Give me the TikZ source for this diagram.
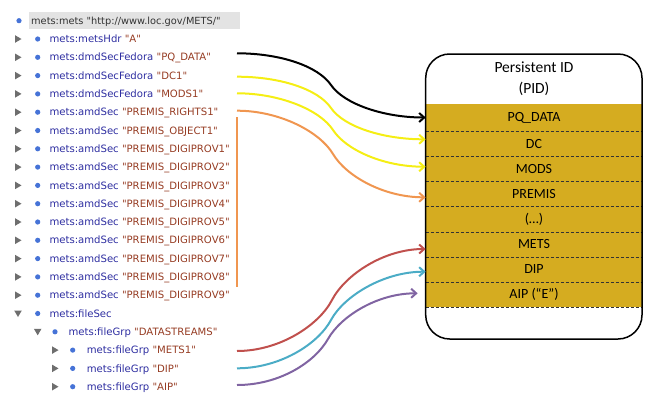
\documentclass[tikz,border=0pt]{standalone}
\usepackage{fontspec}
\usetikzlibrary{arrows.meta}
\newfontfamily\listfont{DejaVu Sans}
\newfontfamily\boxfont{Carlito}
\definecolor{elem}{RGB}{45,45,160}
\definecolor{val}{RGB}{150,60,35}
\definecolor{bul}{RGB}{70,115,215}
\definecolor{tri}{RGB}{110,110,110}
\definecolor{gold}{RGB}{213,172,32}
\definecolor{cyellow}{RGB}{245,238,20}
\definecolor{corange}{RGB}{240,150,80}
\definecolor{cred}{RGB}{192,80,77}
\definecolor{ccyan}{RGB}{75,172,198}
\definecolor{cpurple}{RGB}{128,100,162}
\newcommand\listrow[6]{%
  \pgfmathsetmacro\ry{20.7+18.3*#1}%
  \ifx r#3 \fill[tri] (#2-3,\ry-3.8) -- (#2+3.5,\ry) -- (#2-3,\ry+3.8) -- cycle; \fi
  \ifx d#3 \fill[tri] (#2-3.8,\ry-3) -- (#2+3.8,\ry-3) -- (#2,\ry+3.5) -- cycle; \fi
  \fill[bul] (#4,\ry) circle (2.6);
  \node[listtext] (r#1) at (#5,\ry+3.6) {#6};
}
\begin{document}
\begin{tikzpicture}[x=1pt,y=-1pt,
  listtext/.style={anchor=base west, inner sep=0pt, font=\listfont\fontsize{10.1}{12}\selectfont},
  rowtext/.style={inner sep=0pt, minimum width=216.3pt, minimum height=25pt, font=\boxfont\fontsize{14}{16}\selectfont},
  conn/.style={line width=2pt, -{Straight Barb[length=5pt,width=9pt]}},
  divider/.style={dash pattern=on 3pt off 2pt, line width=0.8pt, black!80}]
\useasboundingbox (0,0) rectangle (646,394);
% list
\fill[gray!22] (29,12) rectangle (240,29);
\listrow{0}{0}{n}{19}{31}{\fontsize{9.8}{12}\selectfont\color{black!80}mets:mets "http://www.loc.gov/METS/"}
\listrow{1}{18}{r}{37.7}{49.3}{{\color{elem}mets:metsHdr} {\color{val}"A"}}
\listrow{2}{18}{r}{37.7}{49.3}{{\color{elem}mets:dmdSecFedora} {\color{val}"PQ\_DATA"}}
\listrow{3}{18}{r}{37.7}{49.3}{{\color{elem}mets:dmdSecFedora} {\color{val}"DC1"}}
\listrow{4}{18}{r}{37.7}{49.3}{{\color{elem}mets:dmdSecFedora} {\color{val}"MODS1"}}
\listrow{5}{18}{r}{37.7}{49.3}{{\color{elem}mets:amdSec} {\color{val}"PREMIS\_RIGHTS1"}}
\listrow{6}{18}{r}{37.7}{49.3}{{\color{elem}mets:amdSec} {\color{val}"PREMIS\_OBJECT1"}}
\listrow{7}{18}{r}{37.7}{49.3}{{\color{elem}mets:amdSec} {\color{val}"PREMIS\_DIGIPROV1"}}
\listrow{8}{18}{r}{37.7}{49.3}{{\color{elem}mets:amdSec} {\color{val}"PREMIS\_DIGIPROV2"}}
\listrow{9}{18}{r}{37.7}{49.3}{{\color{elem}mets:amdSec} {\color{val}"PREMIS\_DIGIPROV3"}}
\listrow{10}{18}{r}{37.7}{49.3}{{\color{elem}mets:amdSec} {\color{val}"PREMIS\_DIGIPROV4"}}
\listrow{11}{18}{r}{37.7}{49.3}{{\color{elem}mets:amdSec} {\color{val}"PREMIS\_DIGIPROV5"}}
\listrow{12}{18}{r}{37.7}{49.3}{{\color{elem}mets:amdSec} {\color{val}"PREMIS\_DIGIPROV6"}}
\listrow{13}{18}{r}{37.7}{49.3}{{\color{elem}mets:amdSec} {\color{val}"PREMIS\_DIGIPROV7"}}
\listrow{14}{18}{r}{37.7}{49.3}{{\color{elem}mets:amdSec} {\color{val}"PREMIS\_DIGIPROV8"}}
\listrow{15}{18}{r}{37.7}{49.3}{{\color{elem}mets:amdSec} {\color{val}"PREMIS\_DIGIPROV9"}}
\listrow{16}{18}{d}{37.7}{49.3}{{\color{elem}mets:fileSec}}
\listrow{17}{37.7}{d}{55}{68.3}{{\color{elem}mets:fileGrp} {\color{val}"DATASTREAMS"}}
\listrow{18}{55}{r}{72.7}{86.7}{{\color{elem}mets:fileGrp} {\color{val}"METS1"}}
\listrow{19}{55}{r}{72.7}{86.7}{{\color{elem}mets:fileGrp} {\color{val}"DIP"}}
\listrow{20}{55}{r}{72.7}{86.7}{{\color{elem}mets:fileGrp} {\color{val}"AIP"}}
% box
\fill[white, rounded corners=24pt] (425.7,54) rectangle (642,339);
\fill[gold] (425.7,104) rectangle (642,307);
\foreach \yy in {131,156.7,181.7,206,232,257,282,307}
  \draw[divider] (425.7,\yy) -- (642,\yy);
\draw[line width=1.5pt, rounded corners=24pt] (425.7,54) rectangle (642,339);
\node[align=center, font=\boxfont\fontsize{15.5}{21}\selectfont] (pid) at (534,79) {Persistent ID\\(PID)};
\node[rowtext] (pq) at (534,117.5) {PQ\_DATA};
\node[rowtext] (dc) at (534,143.9) {DC};
\node[rowtext] (mods) at (534,169.2) {MODS};
\node[rowtext] (premis) at (534,193.9) {PREMIS};
\node[rowtext] (dots) at (534,219) {(…)};
\node[rowtext] (mets) at (534,244.5) {METS};
\node[rowtext] (dip) at (534,269.5) {DIP};
\node[rowtext] (aip) at (534,294.5) {AIP (“E”)};
% connectors
\coordinate (s1) at (237,53.3);  \coordinate (m1) at (331,85);
\coordinate (s2) at (237,76.7);  \coordinate (m2) at (331,108);
\coordinate (s3) at (237,93.3);  \coordinate (m3) at (333,130);
\coordinate (s4) at (237,110.7); \coordinate (m4) at (333,154);
\coordinate (s5) at (237,351);   \coordinate (m5) at (332,300);
\coordinate (s6) at (237,368.3); \coordinate (m6) at (331,320);
\coordinate (s7) at (237,385);   \coordinate (m7) at (328,339);
\coordinate (v1) at (237,117);   \coordinate (v2) at (237,287);
\draw[corange, line width=2pt] (v1) -- (v2);
\draw[conn, black] (s1) .. controls +(43,0) and +(-13,-19) .. (m1) .. controls +(13,19) and +(-42,0) .. (pq.west);
\draw[conn, cyellow] (s2) .. controls +(43,0) and +(-13,-19) .. (m2) .. controls +(13,19) and +(-42,0) .. ([yshift=4.6pt]dc.west);
\draw[conn, cyellow] (s3) .. controls +(43,0) and +(-13,-20) .. (m3) .. controls +(13,20) and +(-42,0) .. ([yshift=2.5pt]mods.west);
\draw[conn, corange] (s4) .. controls +(43,0) and +(-13,-22) .. (m4) .. controls +(13,22) and +(-42,0) .. ([yshift=-3.4pt]premis.west);
\draw[conn, cred] (s5) .. controls +(43,0) and +(-13,25) .. (m5) .. controls +(13,-25) and +(-42,0) .. ([yshift=-4.5pt]mets.west);
\draw[conn, ccyan] (s6) .. controls +(43,0) and +(-13,24) .. (m6) .. controls +(13,-24) and +(-42,0) .. ([yshift=-2.2pt]dip.west);
\draw[conn, cpurple] (s7) .. controls +(43,0) and +(-13,23) .. (m7) .. controls +(13,-23) and +(-40,0) .. ([xshift=-8pt,yshift=1.2pt]aip.west);
\end{tikzpicture}
\end{document}
